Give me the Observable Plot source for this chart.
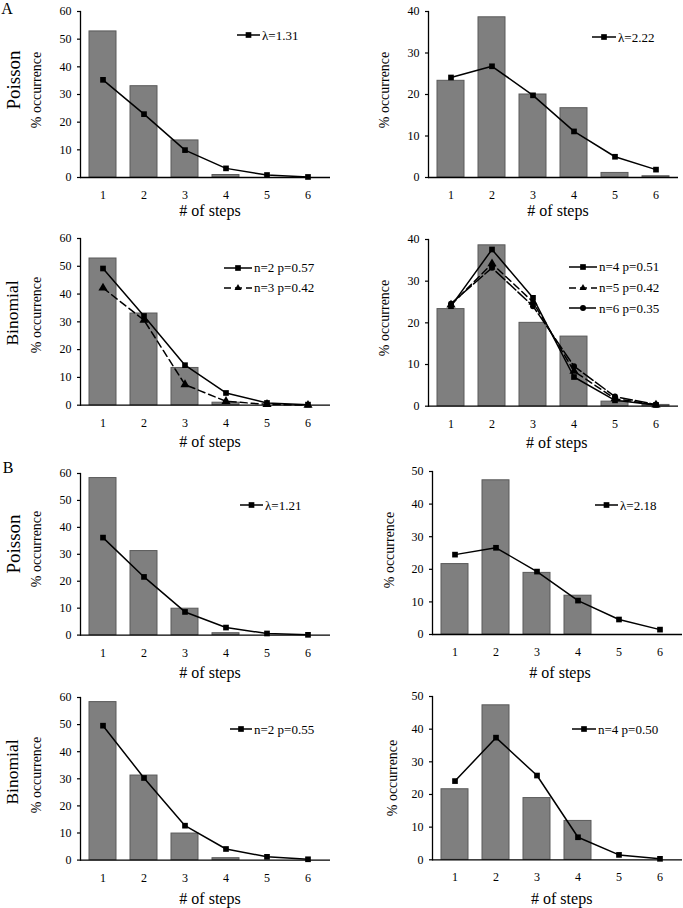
<!DOCTYPE html>
<html><head><meta charset="utf-8">
<script src="https://cdn.jsdelivr.net/npm/d3@7"></script>
<script src="https://cdn.jsdelivr.net/npm/@observablehq/plot@0.6"></script>
<style>
body{margin:0;background:#fff;}
#fig{position:relative;width:683px;height:908px;font-family:"Liberation Serif","Times New Roman",serif;color:#000;overflow:hidden;background:#fff}
.abs{position:absolute;white-space:nowrap;line-height:1}
.c{transform:translate(-50%,-50%)}
.rot{transform:translate(-50%,-50%) rotate(-90deg)}
.leg{position:absolute;display:flex;align-items:center;font-size:13px;white-space:nowrap;line-height:1}
.leg svg{display:block;margin-right:2px}
svg.plot{position:absolute}
</style></head><body><div id="fig"></div>
<script>
// ---------- data ----------
const steps = [1, 2, 3, 4, 5, 6];
const ticks40 = [0, 10, 20, 30, 40];
const ticks50 = [0, 10, 20, 30, 40, 50];
const ticks60 = [0, 10, 20, 30, 40, 50, 60];

// A: observed % occurrence
const aObsLow  = [52.8, 33.0, 13.4, 0.9, 0, 0];
const aObsHigh = [23.3, 38.6, 20.0, 16.7, 1.1, 0.3];
// A: fitted distributions
const aPoisson131 = [35.3, 22.9, 9.9, 3.3, 0.9, 0.2];
const aPoisson222 = [24.1, 26.8, 19.8, 11.1, 5.0, 1.9];
const aBinN2P057  = [49.2, 32.1, 14.4, 4.4, 0.8, 0.2];
const aBinN3P042  = [42.2, 30.6, 7.4, 1.4, 0.3, 0.0];
const aBinN4P051  = [24.0, 37.6, 26.0, 7.0, 1.4, 0.3];
const aBinN5P042  = [24.3, 34.2, 25.0, 8.4, 1.8, 0.3];
const aBinN6P035  = [24.6, 33.2, 24.0, 9.6, 2.3, 0.4];

// B: observed % occurrence
const bObsLow  = [58.3, 31.2, 9.8, 0.7, 0, 0];
const bObsHigh = [21.6, 47.3, 18.9, 11.9, 0, 0];
// B: fitted distributions
const bPoisson121 = [36.2, 21.6, 8.6, 2.8, 0.6, 0.1];
const bPoisson218 = [24.5, 26.6, 19.3, 10.4, 4.6, 1.5];
const bBinN2P055  = [49.6, 30.3, 12.7, 4.1, 1.2, 0.3];
const bBinN4P050  = [24.1, 37.4, 25.8, 6.9, 1.5, 0.3];

// text
const xTitle = "# of steps";
const yTitle = "% occurrence";
const rowTitles = ["Poisson", "Binomial"];
const sectionTitles = ["A", "B"];

// ---------- layout ----------
const SOLID = null, DASH = "7,4", LONGDASH = "12,3";
const panels = [
  {obs: aObsLow, yTicks: ticks60, x0: 80, x1: 330, y0: 10.7, y1: 176.7,
   fits: [{name: "λ=1.31", values: aPoisson131, symbol: "square", dash: SOLID}],
   leg: {x: 237, y: 35, len: 23, gap: 20},
   xl: [210, 211], yl: [37, 90], row: {t: rowTitles[0], x: 13, y: 80, size: 19}, sec: {t: sectionTitles[0], x: 7, y: 9}},
  {obs: aObsHigh, yTicks: ticks40, x0: 428.3, x1: 678.3, y0: 10.7, y1: 176.7,
   fits: [{name: "λ=2.22", values: aPoisson222, symbol: "square", dash: SOLID}],
   leg: {x: 592, y: 37, len: 24, gap: 20},
   xl: [558, 211], yl: [385, 90]},
  {obs: aObsLow, yTicks: ticks60, x0: 80, x1: 330, y0: 238.3, y1: 405,
   fits: [{name: "n=2 p=0.57", values: aBinN2P057, symbol: "square", dash: SOLID},
          {name: "n=3 p=0.42", values: aBinN3P042, symbol: "triangle", dash: DASH}],
   leg: {x: 224, y: 267.7, len: 28, gap: 20},
   xl: [210, 441.7], yl: [37, 315], row: {t: rowTitles[1], x: 12.5, y: 312.5, size: 17.5}},
  {obs: aObsHigh, yTicks: ticks40, x0: 428.3, x1: 678.3, y0: 239.3, y1: 406,
   fits: [{name: "n=4 p=0.51", values: aBinN4P051, symbol: "square", dash: SOLID},
          {name: "n=5 p=0.42", values: aBinN5P042, symbol: "triangle", dash: DASH},
          {name: "n=6 p=0.35", values: aBinN6P035, symbol: "circle", dash: LONGDASH}],
   leg: {x: 569, y: 266.7, len: 28, gap: 20.8},
   xl: [556.7, 442.7], yl: [385, 318]},
  {obs: bObsLow, yTicks: ticks60, x0: 80, x1: 330, y0: 472.7, y1: 634.3,
   fits: [{name: "λ=1.21", values: bPoisson121, symbol: "square", dash: SOLID}],
   leg: {x: 240, y: 505, len: 23, gap: 20},
   xl: [210, 672.7], yl: [37, 548.5], row: {t: rowTitles[0], x: 13, y: 544, size: 19}, sec: {t: sectionTitles[1], x: 8, y: 468}},
  {obs: bObsHigh, yTicks: ticks50, x0: 431.7, x1: 681.7, y0: 471, y1: 634,
   fits: [{name: "λ=2.18", values: bPoisson218, symbol: "square", dash: SOLID}],
   leg: {x: 595, y: 505, len: 23, gap: 20},
   xl: [560, 672.7], yl: [390, 550]},
  {obs: bObsLow, yTicks: ticks60, x0: 80, x1: 330, y0: 696.7, y1: 859.3,
   fits: [{name: "n=2 p=0.55", values: bBinN2P055, symbol: "square", dash: SOLID}],
   leg: {x: 230, y: 729.3, len: 22, gap: 20},
   xl: [210, 899.3], yl: [37, 775], row: {t: rowTitles[1], x: 12.5, y: 771.5, size: 17.5}},
  {obs: bObsHigh, yTicks: ticks50, x0: 431.7, x1: 681.7, y0: 696, y1: 859.3,
   fits: [{name: "n=4 p=0.50", values: bBinN4P050, symbol: "square", dash: SOLID}],
   leg: {x: 572, y: 729.3, len: 24, gap: 20},
   xl: [561.7, 899.3], yl: [392.7, 777.5]}
];

const fig = document.getElementById("fig");
const ML = 80, MT = 15, MR = 6, MB = 32;
const symbolMap = {square: d3.symbolSquare, triangle: d3.symbolTriangle2, circle: d3.symbolCircle};
const R = {square: 3.2, triangle: 3.4, circle: 3.0};

function addText(t, x, y, cls, size) {
  const d = document.createElement("div");
  d.className = "abs " + cls;
  d.style.left = x + "px"; d.style.top = y + "px";
  d.style.fontSize = size + "px";
  d.textContent = t;
  fig.appendChild(d);
}

for (const p of panels) {
  const obs = steps.map((k, i) => ({k, v: p.obs[i]}));
  const yMax = p.yTicks[p.yTicks.length - 1];
  const marks = [
    Plot.barY(obs, {x: "k", y: "v", fill: "#7f7f7f", stroke: "#5a5a5a", strokeWidth: 1}),
    Plot.ruleY([0], {stroke: "#000", strokeWidth: 1.3}),
    Plot.frame({anchor: "left", stroke: "#000", strokeWidth: 1.3}),
    Plot.axisY(p.yTicks, {tickSize: 3, tickPadding: 6, label: null, fontSize: 12, strokeWidth: 1.2}),
    Plot.axisX(steps, {tickSize: 0, tickPadding: 13, label: null, fontSize: 12})
  ];
  for (const f of p.fits) {
    const d = steps.map((k, i) => ({k, v: f.values[i]}));
    marks.push(Plot.line(d, {x: "k", y: "v", stroke: "#000", strokeWidth: 1.5, strokeDasharray: f.dash || undefined}));
    marks.push(Plot.dot(d, {x: "k", y: "v", symbol: f.symbol, r: R[f.symbol], fill: "#000", stroke: "none"}));
  }
  const w = p.x1 - p.x0 + ML + MR, h = p.y1 - p.y0 + MT + MB;
  const svg = Plot.plot({
    width: w, height: h,
    marginLeft: ML, marginRight: MR, marginTop: MT, marginBottom: MB,
    x: {type: "band", domain: steps, paddingInner: 0.33, paddingOuter: 0.165},
    y: {domain: [0, yMax]},
    style: {fontFamily: '"Liberation Serif","Times New Roman",serif', fontSize: "12px", color: "#000", background: "transparent", overflow: "visible"},
    marks
  });
  svg.classList.add("plot");
  svg.style.left = (p.x0 - ML) + "px";
  svg.style.top = (p.y0 - MT) + "px";
  fig.appendChild(svg);

  addText(xTitle, p.xl[0], p.xl[1], "c", 16);
  addText(yTitle, p.yl[0], p.yl[1], "rot", 14);
  if (p.row) addText(p.row.t, p.row.x, p.row.y, "rot", p.row.size);
  if (p.sec) addText(p.sec.t, p.sec.x, p.sec.y, "c", 16);

  // legend
  p.fits.forEach((f, i) => {
    const row = document.createElement("div");
    row.className = "leg";
    row.style.left = p.leg.x + "px";
    row.style.top = (p.leg.y + i * p.leg.gap - 7) + "px";
    row.style.height = "14px";
    const L = p.leg.len;
    const s = d3.create("svg").attr("width", L).attr("height", 10);
    s.append("line").attr("x1", 0).attr("x2", L).attr("y1", 5).attr("y2", 5)
      .attr("stroke", "#000").attr("stroke-width", 1.5)
      .attr("stroke-dasharray", f.dash || null);
    const r = R[f.symbol];
    s.append("path").attr("transform", `translate(${L / 2},5)`)
      .attr("d", d3.symbol(symbolMap[f.symbol], Math.PI * r * r)()).attr("fill", "#000");
    row.appendChild(s.node());
    const t = document.createElement("span");
    t.textContent = f.name;
    row.appendChild(t);
    fig.appendChild(row);
  });
}
</script></body></html>
